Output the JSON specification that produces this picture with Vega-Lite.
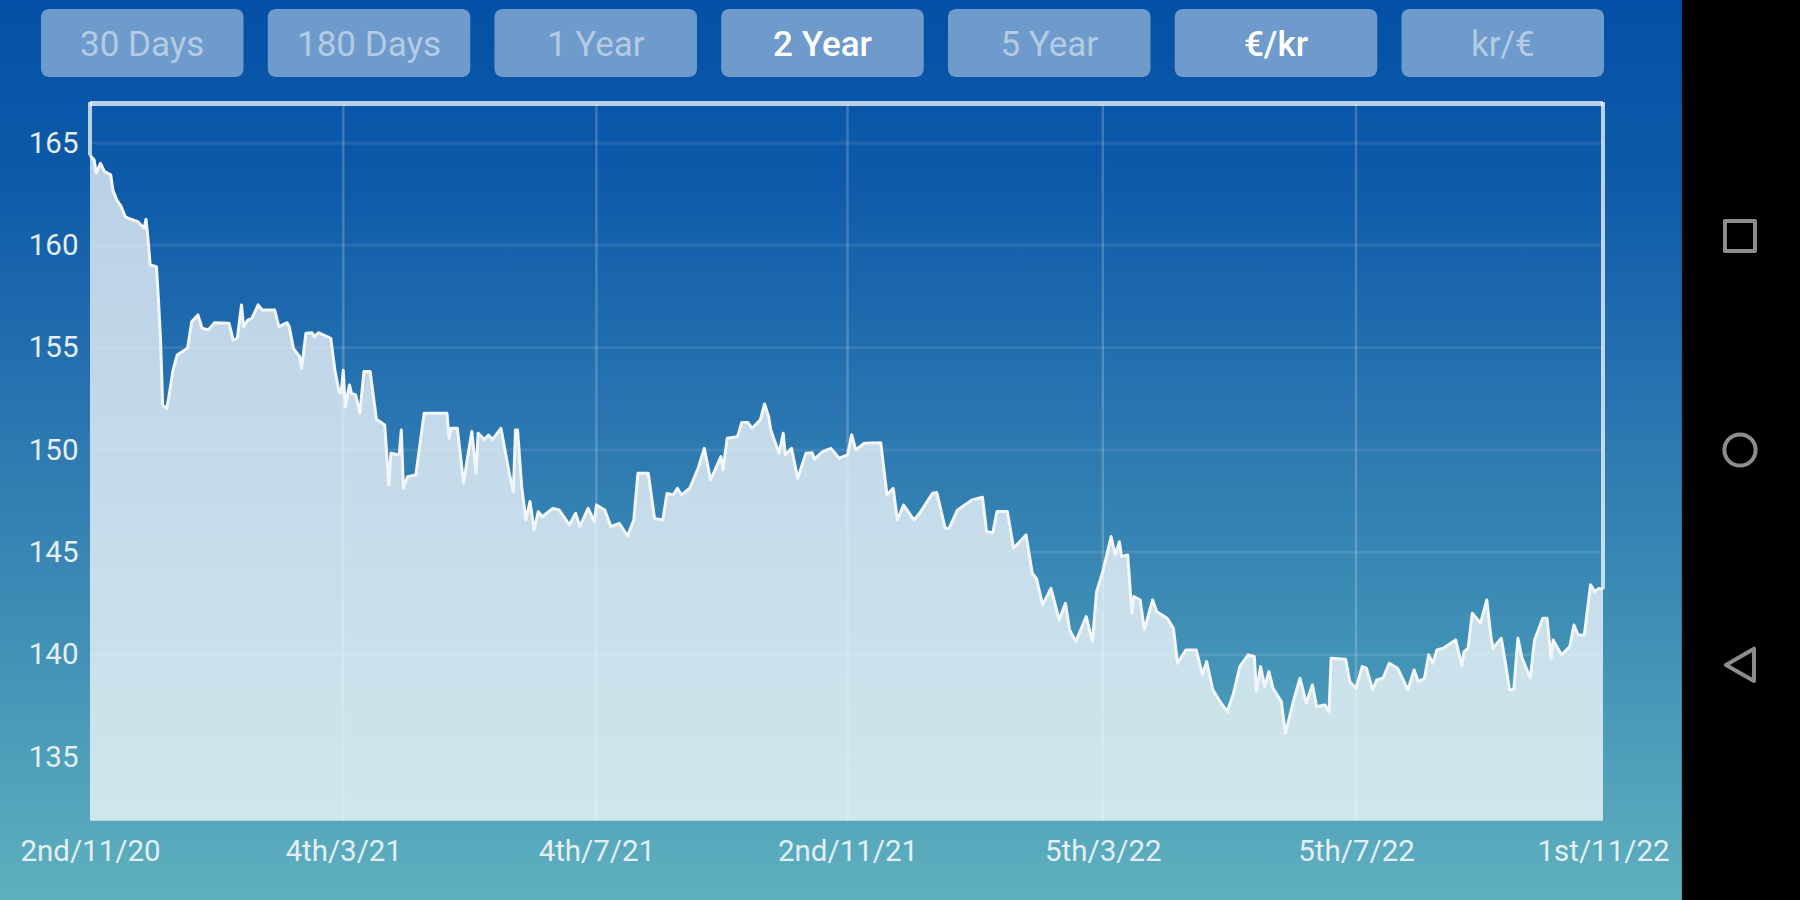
{"$schema":"https://vega.github.io/schema/vega-lite/v6.json","width":1800,"height":900,"padding":0,"autosize":{"type":"none"},"background":"#000000","config":{"view":{"stroke":null}},
"datasets":{
"rates":[{"d":"2020-11-02","v":164.4},{"d":"2020-11-04","v":164.17},{"d":"2020-11-05","v":163.52},{"d":"2020-11-07","v":164.01},{"d":"2020-11-09","v":163.6},{"d":"2020-11-12","v":163.44},{"d":"2020-11-13","v":162.7},{"d":"2020-11-15","v":162.2},{"d":"2020-11-17","v":161.9},{"d":"2020-11-19","v":161.4},{"d":"2020-11-21","v":161.3},{"d":"2020-11-25","v":161.16},{"d":"2020-11-28","v":160.83},{"d":"2020-11-29","v":161.27},{"d":"2020-11-30","v":160.26},{"d":"2020-12-01","v":159.04},{"d":"2020-12-04","v":158.96},{"d":"2020-12-05","v":157.33},{"d":"2020-12-06","v":155.37},{"d":"2020-12-07","v":152.2},{"d":"2020-12-09","v":152.04},{"d":"2020-12-10","v":152.6},{"d":"2020-12-12","v":153.9},{"d":"2020-12-14","v":154.64},{"d":"2020-12-19","v":154.97},{"d":"2020-12-21","v":156.27},{"d":"2020-12-24","v":156.6},{"d":"2020-12-26","v":155.95},{"d":"2020-12-29","v":155.87},{"d":"2021-01-01","v":156.22},{"d":"2021-01-08","v":156.19},{"d":"2021-01-10","v":155.37},{"d":"2021-01-12","v":155.46},{"d":"2021-01-14","v":157.09},{"d":"2021-01-15","v":156.03},{"d":"2021-01-17","v":156.35},{"d":"2021-01-19","v":156.43},{"d":"2021-01-22","v":157.09},{"d":"2021-01-24","v":156.84},{"d":"2021-01-30","v":156.84},{"d":"2021-02-01","v":156.03},{"d":"2021-02-05","v":156.22},{"d":"2021-02-06","v":156.03},{"d":"2021-02-08","v":154.97},{"d":"2021-02-11","v":154.56},{"d":"2021-02-12","v":154.0},{"d":"2021-02-14","v":155.7},{"d":"2021-02-17","v":155.73},{"d":"2021-02-18","v":155.54},{"d":"2021-02-20","v":155.73},{"d":"2021-02-26","v":155.46},{"d":"2021-02-28","v":153.9},{"d":"2021-03-02","v":152.85},{"d":"2021-03-03","v":152.77},{"d":"2021-03-04","v":153.9},{"d":"2021-03-05","v":152.1},{"d":"2021-03-07","v":153.18},{"d":"2021-03-08","v":152.77},{"d":"2021-03-10","v":152.69},{"d":"2021-03-12","v":151.8},{"d":"2021-03-14","v":153.83},{"d":"2021-03-17","v":153.83},{"d":"2021-03-20","v":151.5},{"d":"2021-03-24","v":151.22},{"d":"2021-03-26","v":148.29},{"d":"2021-03-27","v":149.84},{"d":"2021-03-31","v":149.76},{"d":"2021-04-01","v":150.98},{"d":"2021-04-02","v":148.13},{"d":"2021-04-04","v":148.7},{"d":"2021-04-08","v":148.78},{"d":"2021-04-12","v":151.79},{"d":"2021-04-23","v":151.79},{"d":"2021-04-24","v":150.57},{"d":"2021-04-25","v":151.06},{"d":"2021-04-28","v":151.06},{"d":"2021-05-01","v":148.37},{"d":"2021-05-03","v":149.68},{"d":"2021-05-05","v":150.9},{"d":"2021-05-07","v":148.86},{"d":"2021-05-08","v":150.82},{"d":"2021-05-11","v":150.52},{"d":"2021-05-13","v":150.73},{"d":"2021-05-15","v":150.52},{"d":"2021-05-19","v":151.06},{"d":"2021-05-23","v":148.86},{"d":"2021-05-25","v":147.97},{"d":"2021-05-26","v":150.98},{"d":"2021-05-27","v":150.98},{"d":"2021-05-29","v":148.21},{"d":"2021-05-31","v":146.58},{"d":"2021-06-02","v":147.48},{"d":"2021-06-04","v":146.09},{"d":"2021-06-06","v":146.99},{"d":"2021-06-08","v":146.74},{"d":"2021-06-13","v":147.15},{"d":"2021-06-16","v":147.07},{"d":"2021-06-21","v":146.34},{"d":"2021-06-24","v":146.91},{"d":"2021-06-26","v":146.26},{"d":"2021-06-30","v":147.15},{"d":"2021-07-03","v":146.5},{"d":"2021-07-04","v":147.31},{"d":"2021-07-08","v":147.07},{"d":"2021-07-11","v":146.26},{"d":"2021-07-15","v":146.42},{"d":"2021-07-19","v":145.8},{"d":"2021-07-22","v":146.58},{"d":"2021-07-24","v":148.86},{"d":"2021-07-29","v":148.86},{"d":"2021-08-01","v":146.66},{"d":"2021-08-05","v":146.58},{"d":"2021-08-07","v":147.88},{"d":"2021-08-10","v":147.8},{"d":"2021-08-12","v":148.13},{"d":"2021-08-14","v":147.8},{"d":"2021-08-18","v":148.13},{"d":"2021-08-22","v":149.11},{"d":"2021-08-25","v":150.08},{"d":"2021-08-28","v":148.54},{"d":"2021-09-02","v":149.68},{"d":"2021-09-03","v":149.02},{"d":"2021-09-05","v":150.57},{"d":"2021-09-10","v":150.65},{"d":"2021-09-12","v":151.34},{"d":"2021-09-15","v":151.34},{"d":"2021-09-17","v":151.06},{"d":"2021-09-21","v":151.47},{"d":"2021-09-23","v":152.25},{"d":"2021-09-25","v":151.63},{"d":"2021-09-26","v":150.98},{"d":"2021-09-30","v":149.84},{"d":"2021-10-02","v":150.82},{"d":"2021-10-03","v":149.76},{"d":"2021-10-06","v":150.08},{"d":"2021-10-09","v":148.62},{"d":"2021-10-13","v":149.84},{"d":"2021-10-16","v":149.87},{"d":"2021-10-17","v":149.55},{"d":"2021-10-21","v":149.92},{"d":"2021-10-25","v":150.08},{"d":"2021-10-29","v":149.6},{"d":"2021-11-02","v":149.76},{"d":"2021-11-04","v":150.74},{"d":"2021-11-06","v":150.0},{"d":"2021-11-10","v":150.33},{"d":"2021-11-18","v":150.36},{"d":"2021-11-21","v":147.8},{"d":"2021-11-24","v":148.13},{"d":"2021-11-26","v":146.58},{"d":"2021-11-29","v":147.31},{"d":"2021-12-04","v":146.58},{"d":"2021-12-07","v":146.95},{"d":"2021-12-13","v":147.89},{"d":"2021-12-15","v":147.92},{"d":"2021-12-19","v":146.18},{"d":"2021-12-21","v":146.18},{"d":"2021-12-25","v":147.07},{"d":"2022-01-01","v":147.56},{"d":"2022-01-06","v":147.69},{"d":"2022-01-08","v":146.01},{"d":"2022-01-11","v":145.96},{"d":"2022-01-13","v":146.99},{"d":"2022-01-18","v":146.99},{"d":"2022-01-21","v":145.2},{"d":"2022-01-27","v":145.85},{"d":"2022-01-30","v":143.98},{"d":"2022-02-01","v":143.73},{"d":"2022-02-04","v":142.43},{"d":"2022-02-08","v":143.24},{"d":"2022-02-12","v":141.7},{"d":"2022-02-15","v":142.51},{"d":"2022-02-17","v":141.21},{"d":"2022-02-20","v":140.64},{"d":"2022-02-22","v":141.13},{"d":"2022-02-25","v":141.86},{"d":"2022-02-28","v":140.64},{"d":"2022-03-02","v":143.08},{"d":"2022-03-05","v":144.06},{"d":"2022-03-09","v":145.77},{"d":"2022-03-11","v":144.87},{"d":"2022-03-13","v":145.52},{"d":"2022-03-14","v":144.79},{"d":"2022-03-17","v":144.87},{"d":"2022-03-19","v":142.02},{"d":"2022-03-20","v":142.84},{"d":"2022-03-23","v":142.67},{"d":"2022-03-25","v":141.21},{"d":"2022-03-29","v":142.67},{"d":"2022-03-31","v":142.1},{"d":"2022-04-05","v":141.78},{"d":"2022-04-08","v":141.29},{"d":"2022-04-10","v":139.58},{"d":"2022-04-14","v":140.23},{"d":"2022-04-19","v":140.23},{"d":"2022-04-22","v":139.01},{"d":"2022-04-24","v":139.66},{"d":"2022-04-27","v":138.28},{"d":"2022-05-01","v":137.63},{"d":"2022-05-04","v":137.22},{"d":"2022-05-07","v":138.11},{"d":"2022-05-10","v":139.42},{"d":"2022-05-14","v":139.99},{"d":"2022-05-17","v":139.91},{"d":"2022-05-18","v":138.2},{"d":"2022-05-20","v":139.42},{"d":"2022-05-22","v":138.44},{"d":"2022-05-24","v":139.17},{"d":"2022-05-26","v":138.36},{"d":"2022-05-30","v":137.71},{"d":"2022-06-01","v":136.16},{"d":"2022-06-05","v":137.79},{"d":"2022-06-08","v":138.85},{"d":"2022-06-11","v":137.63},{"d":"2022-06-14","v":138.52},{"d":"2022-06-16","v":137.46},{"d":"2022-06-20","v":137.54},{"d":"2022-06-22","v":137.22},{"d":"2022-06-23","v":139.83},{"d":"2022-06-30","v":139.78},{"d":"2022-07-02","v":138.68},{"d":"2022-07-05","v":138.36},{"d":"2022-07-08","v":139.42},{"d":"2022-07-10","v":139.34},{"d":"2022-07-13","v":138.28},{"d":"2022-07-15","v":138.77},{"d":"2022-07-18","v":138.85},{"d":"2022-07-21","v":139.58},{"d":"2022-07-25","v":139.34},{"d":"2022-07-30","v":138.28},{"d":"2022-08-02","v":139.25},{"d":"2022-08-04","v":138.68},{"d":"2022-08-07","v":138.85},{"d":"2022-08-09","v":139.99},{"d":"2022-08-11","v":139.58},{"d":"2022-08-13","v":140.23},{"d":"2022-08-16","v":140.31},{"d":"2022-08-22","v":140.72},{"d":"2022-08-25","v":139.45},{"d":"2022-08-26","v":140.15},{"d":"2022-08-28","v":140.31},{"d":"2022-08-30","v":142.02},{"d":"2022-09-03","v":141.54},{"d":"2022-09-06","v":142.67},{"d":"2022-09-08","v":140.88},{"d":"2022-09-09","v":140.31},{"d":"2022-09-13","v":140.8},{"d":"2022-09-15","v":139.58},{"d":"2022-09-17","v":138.28},{"d":"2022-09-19","v":138.28},{"d":"2022-09-21","v":140.8},{"d":"2022-09-23","v":139.83},{"d":"2022-09-27","v":138.85},{"d":"2022-09-29","v":140.72},{"d":"2022-10-03","v":141.78},{"d":"2022-10-05","v":141.78},{"d":"2022-10-07","v":139.83},{"d":"2022-10-08","v":140.72},{"d":"2022-10-12","v":139.99},{"d":"2022-10-16","v":140.39},{"d":"2022-10-18","v":141.45},{"d":"2022-10-20","v":140.96},{"d":"2022-10-23","v":140.96},{"d":"2022-10-26","v":143.41},{"d":"2022-10-28","v":143.08},{"d":"2022-10-30","v":143.24},{"d":"2022-11-01","v":143.2}],
"hgrid":[{"v":135,"from":"2020-11-02","to":"2022-11-01"},{"v":140,"from":"2020-11-02","to":"2022-11-01"},{"v":145,"from":"2020-11-02","to":"2022-11-01"},{"v":150,"from":"2020-11-02","to":"2022-11-01"},{"v":155,"from":"2020-11-02","to":"2022-11-01"},{"v":160,"from":"2020-11-02","to":"2022-11-01"},{"v":165,"from":"2020-11-02","to":"2022-11-01"}],
"vgrid":[{"d":"2021-03-04","lo":131.88,"hi":166.9},{"d":"2021-07-04","lo":131.88,"hi":166.9},{"d":"2021-11-02","lo":131.88,"hi":166.9},{"d":"2022-03-05","lo":131.88,"hi":166.9},{"d":"2022-07-05","lo":131.88,"hi":166.9}],
"sides":[{"d":"2020-11-02","lo":164.4,"hi":167.0},{"d":"2022-11-01","lo":143.2,"hi":167.0}],
"top":[{"v":166.93,"from":"2020-11-02","to":"2022-11-01"}],
"navbar":[{"d":"2022-12-09","d2":"2023-02-06","lo":127,"hi":173}],
"navicons":[{"icon":"recents","d":"2023-01-06","v":160.45},{"icon":"home","d":"2023-01-06","v":150},{"icon":"back","d":"2023-01-06","v":139.5}],
"buttons":[{"label":"30 Days","row":"range","active":false},{"label":"180 Days","row":"range","active":false},{"label":"1 Year","row":"range","active":false},{"label":"2 Year","row":"range","active":true},{"label":"5 Year","row":"range","active":false},{"label":"€/kr","row":"range","active":true},{"label":"kr/€","row":"range","active":false}]
},
"layer":[
{"data":{"values":[{"bg":1}]},"mark":{"type":"rect","color":{"gradient":"linear","x1":0,"y1":0,"x2":0,"y2":1,"stops":[{"offset":0,"color":"#0450a6"},{"offset":0.2,"color":"#0e5aa9"},{"offset":0.45,"color":"#2974b0"},{"offset":0.7,"color":"#3f8fb6"},{"offset":1,"color":"#5fb0be"}]}},"encoding":{}},
{"layer":[
{"data":{"name":"rates"},"mark":{"type":"area","color":"#ffffff","opacity":0.72},"encoding":{
"x":{"field":"d","type":"temporal","axis":null,"scale":{"type":"utc","domain":[{"year":2020,"month":11,"date":2,"utc":true},{"year":2022,"month":11,"date":1,"utc":true}],"range":[90,1603]}},
"y":{"field":"v","type":"quantitative","axis":null,"scale":{"domain":[135,165],"range":[757,143],"nice":false,"zero":false}},
"y2":{"datum":131.88}}},
{"data":{"name":"hgrid"},"mark":{"type":"rule","color":"#ffffff","opacity":0.09,"strokeWidth":3},"encoding":{"x":{"field":"from","type":"temporal","axis":null,"scale":{"type":"utc","domain":[{"year":2020,"month":11,"date":2,"utc":true},{"year":2022,"month":11,"date":1,"utc":true}],"range":[90,1603]}},"x2":{"field":"to"},"y":{"field":"v","type":"quantitative","axis":null,"scale":{"domain":[135,165],"range":[757,143],"nice":false,"zero":false}}}},
{"data":{"name":"vgrid"},"mark":{"type":"rule","color":"#ffffff","opacity":0.2,"strokeWidth":2.5},"encoding":{"x":{"field":"d","type":"temporal","axis":null,"scale":{"type":"utc","domain":[{"year":2020,"month":11,"date":2,"utc":true},{"year":2022,"month":11,"date":1,"utc":true}],"range":[90,1603]}},"y":{"field":"lo","type":"quantitative","axis":null,"scale":{"domain":[135,165],"range":[757,143],"nice":false,"zero":false}},"y2":{"field":"hi"}}},
{"data":{"name":"sides"},"mark":{"type":"rule","color":"#ffffff","opacity":0.72,"strokeWidth":4},"encoding":{"x":{"field":"d","type":"temporal","axis":null,"scale":{"type":"utc","domain":[{"year":2020,"month":11,"date":2,"utc":true},{"year":2022,"month":11,"date":1,"utc":true}],"range":[90,1603]}},"y":{"field":"lo","type":"quantitative","axis":null,"scale":{"domain":[135,165],"range":[757,143],"nice":false,"zero":false}},"y2":{"field":"hi"}}},
{"data":{"name":"top"},"mark":{"type":"rule","color":"#ffffff","opacity":0.72,"strokeWidth":5},"encoding":{"x":{"field":"from","type":"temporal","axis":null,"scale":{"type":"utc","domain":[{"year":2020,"month":11,"date":2,"utc":true},{"year":2022,"month":11,"date":1,"utc":true}],"range":[90,1603]}},"x2":{"field":"to"},"y":{"field":"v","type":"quantitative","axis":null,"scale":{"domain":[135,165],"range":[757,143],"nice":false,"zero":false}}}},
{"data":{"name":"navbar"},"mark":{"type":"rect","color":"#000000"},"encoding":{"x":{"field":"d","type":"temporal","axis":null,"scale":{"type":"utc","domain":[{"year":2020,"month":11,"date":2,"utc":true},{"year":2022,"month":11,"date":1,"utc":true}],"range":[90,1603]}},"x2":{"field":"d2"},"y":{"field":"lo","type":"quantitative","axis":null,"scale":{"domain":[135,165],"range":[757,143],"nice":false,"zero":false}},"y2":{"field":"hi"}}},
{"data":{"name":"navicons"},"mark":{"type":"point","filled":false,"stroke":"#8c8c8c","strokeWidth":4,"opacity":1,"strokeJoin":"round"},"encoding":{"x":{"field":"d","type":"temporal","axis":null,"scale":{"type":"utc","domain":[{"year":2020,"month":11,"date":2,"utc":true},{"year":2022,"month":11,"date":1,"utc":true}],"range":[90,1603]}},"y":{"field":"v","type":"quantitative","axis":null,"scale":{"domain":[135,165],"range":[757,143],"nice":false,"zero":false}},"shape":{"field":"icon","type":"nominal","legend":null,"scale":{"domain":["recents","home","back"],"range":["square","circle","triangle-left"]}},"size":{"field":"icon","type":"nominal","legend":null,"scale":{"domain":["recents","home","back"],"range":[900,1050,1300]}}}}
]},
{"data":{"name":"rates"},"mark":{"type":"line","color":"#f2f6f9","strokeWidth":3,"strokeJoin":"round"},"encoding":{
"x":{"field":"d","type":"temporal","title":null,"scale":{"type":"utc","domain":[{"year":2020,"month":11,"date":2,"utc":true},{"year":2022,"month":11,"date":1,"utc":true}],"range":[90,1603]},"axis":{"orient":"bottom","offset":-49,"zindex":1,"domain":false,"ticks":false,"grid":false,"labelPadding":0,"labelBaseline":"middle","labelFont":"Roboto","labelFontSize":29.5,"labelColor":"#e3eff5","labelOverlap":false,"labelBound":false,"labelFlush":false,"values":[{"year":2020,"month":11,"date":2,"utc":true},{"year":2021,"month":3,"date":4,"utc":true},{"year":2021,"month":7,"date":4,"utc":true},{"year":2021,"month":11,"date":2,"utc":true},{"year":2022,"month":3,"date":5,"utc":true},{"year":2022,"month":7,"date":5,"utc":true},{"year":2022,"month":11,"date":1,"utc":true}],"labelExpr":"utcdate(datum.value)+(utcdate(datum.value)==1?'st':utcdate(datum.value)==2?'nd':utcdate(datum.value)==3?'rd':'th')+'/'+(utcmonth(datum.value)+1)+'/'+utcFormat(datum.value,'%y')"}},
"y":{"field":"v","type":"quantitative","title":null,"scale":{"domain":[135,165],"range":[757,143],"nice":false,"zero":false},"axis":{"orient":"left","offset":-78,"zindex":1,"domain":false,"ticks":false,"grid":false,"labelPadding":0,"labelFont":"Roboto","labelFontSize":29.5,"labelColor":"#e3eff5","labelOverlap":false,"labelBound":false,"labelFlush":false,"values":[135,140,145,150,155,160,165]}}}},
{"data":{"name":"buttons"},"layer":[
{"mark":{"type":"rect","color":"#6e9bcb","cornerRadius":8}},
{"transform":[{"filter":"!datum.active"}],"mark":{"type":"text","font":"Roboto","fontSize":35,"color":"#b3cbe3","baseline":"middle","dy":2},"encoding":{"text":{"field":"label"}}},
{"transform":[{"filter":"datum.active"}],"mark":{"type":"text","font":"Roboto","fontSize":35,"fontWeight":500,"color":"#ffffff","baseline":"middle","dy":2},"encoding":{"text":{"field":"label"}}}
],"encoding":{"x":{"field":"label","type":"nominal","sort":null,"axis":null,"scale":{"domain":["30 Days","180 Days","1 Year","2 Year","5 Year","€/kr","kr/€"],"range":[41,1604],"paddingInner":0.107,"paddingOuter":0}},"y":{"field":"row","type":"nominal","axis":null,"scale":{"range":[9,77],"paddingInner":0,"paddingOuter":0}}}}
],
"resolve":{"scale":{"x":"independent","y":"independent"},"axis":{"x":"independent","y":"independent"}}}
